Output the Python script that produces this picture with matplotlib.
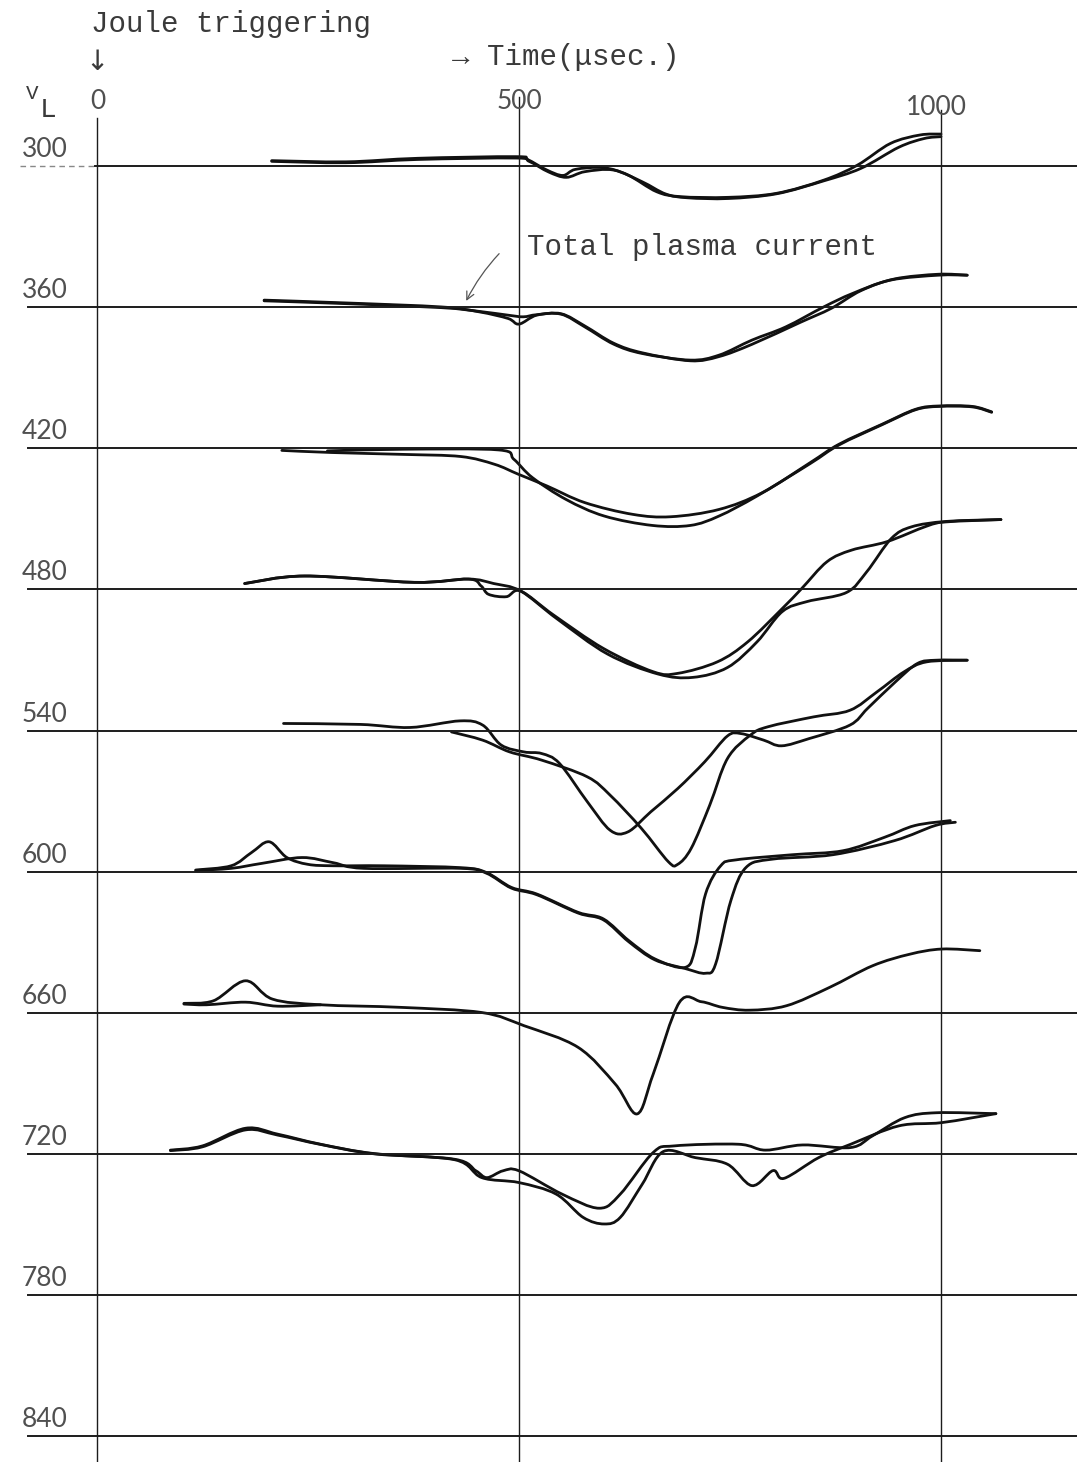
import matplotlib
matplotlib.use("Agg")
import matplotlib.pyplot as plt
from matplotlib.path import Path
from matplotlib.patches import PathPatch

# ---- chart data -------------------------------------------------------------
levels = [300, 360, 420, 480, 540, 600, 660, 720, 780, 840]
level_labels = ["300", "360", "420", "480", "540", "600", "660", "720", "780", "840"]
time_ticks = [0, 500, 1000]
time_tick_labels = ["0", "500", "1000"]

# Oscillograph traces (time in microseconds, V_L scale), two shots per level
t_300a = [207, 295, 380, 496, 510, 533, 552, 567, 600, 629, 663, 691, 748, 805, 861, 901, 940, 975, 1000]
v_300a = [297.7, 298.2, 296.7, 296.0, 297.2, 301.7, 304.0, 301.4, 300.7, 303.8, 310.9, 313.0, 313.3, 311.6, 306.0, 299.6, 290.4, 286.8, 286.4]
t_300b = [207, 295, 380, 496, 512, 535, 556, 578, 612, 646, 674, 700, 748, 805, 861, 905, 950, 980, 1000]
v_300b = [298.0, 298.6, 297.2, 296.6, 298.0, 302.5, 304.8, 302.4, 301.7, 306.7, 311.9, 313.5, 313.8, 311.8, 306.3, 301.0, 292.0, 288.3, 287.5]

t_360a = [198, 295, 408, 453, 487, 500, 521, 550, 578, 612, 646, 703, 737, 776, 816, 861, 895, 940, 997, 1031]
v_360a = [357.0, 358.2, 359.9, 362.0, 364.8, 367.2, 363.4, 363.0, 368.4, 375.7, 379.7, 382.5, 380.4, 374.0, 368.4, 359.9, 354.2, 348.5, 346.4, 346.4]
t_360b = [198, 295, 408, 453, 487, 505, 521, 550, 578, 612, 646, 703, 737, 776, 833, 870, 905, 945, 997, 1031]
v_360b = [357.3, 358.5, 360.2, 361.8, 363.4, 364.1, 363.2, 362.8, 368.0, 375.3, 379.4, 382.8, 381.0, 375.8, 366.5, 360.5, 353.0, 348.0, 346.0, 346.4]

t_420a = [219, 278, 363, 431, 471, 499, 533, 578, 635, 680, 737, 788, 845, 879, 930, 970, 998, 1037, 1060]
v_420a = [420.9, 421.8, 422.6, 423.5, 426.8, 431.0, 436.0, 443.1, 448.1, 449.1, 446.0, 438.9, 426.1, 418.3, 409.8, 403.4, 402.0, 402.2, 404.5]
t_420b = [273, 363, 476, 494, 516, 556, 601, 658, 703, 737, 782, 845, 879, 930, 970, 998, 1037, 1060]
v_420b = [421.1, 420.4, 420.7, 424.7, 432.5, 441.8, 448.8, 452.8, 452.8, 448.8, 440.3, 426.5, 418.6, 410.0, 403.6, 402.2, 402.4, 404.7]

t_480a = [175, 246, 376, 440, 455, 464, 485, 502, 541, 600, 659, 688, 735, 771, 812, 835, 865, 894, 936, 983, 1006, 1071]
v_480a = [477.5, 474.3, 477.0, 475.6, 478.5, 482.1, 483.1, 480.7, 490.9, 505.1, 515.0, 515.7, 510.8, 502.3, 488.1, 479.6, 468.2, 463.3, 459.7, 453.1, 451.3, 450.3]
t_480b = [175, 246, 376, 440, 470, 502, 545, 605, 665, 706, 747, 782, 812, 841, 888, 912, 941, 965, 1006, 1071]
v_480b = [477.5, 474.3, 477.0, 475.6, 477.5, 480.7, 492.5, 507.5, 516.0, 517.4, 513.2, 502.3, 489.4, 485.2, 481.3, 472.5, 458.4, 453.4, 451.1, 450.3]

t_540a = [221, 312, 371, 430, 457, 479, 506, 527, 548, 581, 608, 629, 656, 688, 720, 747, 763, 790, 811, 844, 892, 913, 946, 972, 994, 1031]
v_540a = [537.0, 537.4, 538.7, 535.9, 537.7, 546.2, 549.1, 549.8, 554.0, 570.3, 582.4, 583.1, 574.6, 564.7, 553.3, 542.3, 541.3, 544.1, 546.5, 543.4, 537.7, 530.6, 519.3, 511.5, 510.1, 510.1]
t_540b = [420, 457, 489, 527, 581, 608, 645, 677, 688, 704, 726, 747, 774, 795, 849, 892, 924, 956, 983, 1031]
v_540b = [540.6, 544.1, 549.1, 552.6, 559.7, 567.5, 581.6, 595.8, 596.9, 590.1, 571.7, 551.9, 542.0, 538.4, 534.2, 531.4, 523.6, 515.1, 510.8, 510.1]

t_600a = [117, 159, 183, 204, 225, 250, 280, 340, 431, 461, 491, 521, 570, 600, 630, 661, 697, 709, 721, 739, 757, 824, 884, 933, 969, 1011]
v_600a = [599.3, 597.5, 591.9, 587.3, 594.0, 596.9, 597.5, 597.5, 598.3, 600.3, 606.7, 609.5, 617.3, 620.1, 629.3, 637.1, 640.7, 632.2, 609.5, 597.5, 595.0, 592.8, 591.1, 585.4, 580.4, 578.3]
t_600b = [117, 159, 195, 243, 280, 316, 431, 461, 491, 521, 570, 600, 630, 661, 697, 721, 733, 751, 769, 800, 872, 945, 993, 1017]
v_600b = [599.5, 598.6, 596.5, 594.0, 596.2, 598.6, 598.6, 600.6, 607.0, 609.8, 617.6, 620.5, 629.8, 637.5, 641.2, 643.2, 639.2, 612.3, 598.2, 594.7, 592.8, 586.8, 580.4, 579.0]

t_660a = [103, 138, 176, 208, 265, 360, 456, 506, 570, 614, 640, 659, 690, 716, 741, 773, 817, 868, 919, 963, 1001, 1046]
v_660a = [656.0, 654.9, 646.4, 654.2, 656.6, 657.7, 659.9, 665.5, 674.7, 690.3, 703.0, 686.1, 655.6, 655.3, 657.7, 658.9, 657.0, 649.2, 640.0, 635.1, 632.9, 633.6]
t_660b = [103, 130, 176, 214, 265]
v_660b = [656.3, 656.6, 655.5, 657.2, 656.6]

t_720a = [87, 125, 176, 214, 265, 329, 424, 449, 462, 481, 500, 551, 595, 620, 659, 684, 760, 792, 836, 893, 919, 957, 995, 1065]
v_720a = [718.4, 716.6, 709.1, 711.6, 715.9, 719.9, 722.3, 727.2, 730.1, 727.2, 727.2, 737.1, 743.1, 737.1, 719.4, 716.6, 715.9, 718.4, 716.2, 717.3, 712.3, 704.6, 702.5, 702.9]
t_720b = [87, 125, 176, 214, 265, 329, 424, 456, 500, 544, 576, 601, 620, 646, 671, 709, 747, 776, 801, 814, 855, 893, 950, 1001, 1065]
v_720b = [718.6, 717.0, 709.8, 712.0, 716.0, 720.0, 722.5, 730.1, 732.2, 737.1, 747.0, 749.8, 747.0, 732.9, 719.0, 721.6, 724.4, 733.5, 727.1, 730.4, 721.6, 715.9, 708.1, 706.7, 702.9]

traces = [
    (t_300a, v_300a), (t_300b, v_300b),
    (t_360a, v_360a), (t_360b, v_360b),
    (t_420a, v_420a), (t_420b, v_420b),
    (t_480a, v_480a), (t_480b, v_480b),
    (t_540a, v_540a), (t_540b, v_540b),
    (t_600a, v_600a), (t_600b, v_600b),
    (t_660a, v_660a), (t_660b, v_660b),
    (t_720a, v_720a), (t_720b, v_720b),
]


def trace_path(t, v):
    """Smooth pen-like path through the points (Catmull-Rom as cubic Beziers)."""
    pts = list(zip(t, v))
    n = len(pts)
    verts = [pts[0]]
    codes = [Path.MOVETO]
    for i in range(n - 1):
        p0 = pts[i - 1] if i > 0 else pts[i]
        p1 = pts[i]
        p2 = pts[i + 1]
        p3 = pts[i + 2] if i + 2 < n else pts[i + 1]
        c1 = (p1[0] + (p2[0] - p0[0]) / 6.0, p1[1] + (p2[1] - p0[1]) / 6.0)
        c2 = (p2[0] - (p3[0] - p1[0]) / 6.0, p2[1] - (p3[1] - p1[1]) / 6.0)
        verts += [c1, c2, p2]
        codes += [Path.CURVE4] * 3
    return Path(verts, codes)


# ---- figure -----------------------------------------------------------------
fig = plt.figure(figsize=(10.77, 14.62), dpi=100)
fig.patch.set_facecolor("white")
ax = fig.add_axes([0, 0, 1, 1])
ax.set_xlim(-114.9, 1161.1)
ax.set_ylim(851.0, 229.4)
ax.axis("off")

mono = ["Liberation Mono", "DejaVu Sans Mono"]
label_font = ["Lato", "DejaVu Sans"]
ink = "#1c1c1c"
type_ink = "#3a3a3a"
label_ink = "#505050"

# reference levels
for i, lv in enumerate(levels):
    if i == 0:
        ax.plot([-91, -2], [lv, lv], color="#888888", lw=1.0, ls=(0, (4, 3)))
        ax.plot([-2, 1161], [lv, lv], color=ink, lw=1.4)
    else:
        ax.plot([-82, 1161], [lv, lv], color=ink, lw=1.4)
    ax.text(-61.6, lv - 7.0, level_labels[i], fontsize=19, family=label_font,
            color=label_ink, ha="center", va="center")

# time markers
line_tops = [279.6, 270.7, 276.2]
for tt, top in zip(time_ticks, line_tops):
    ax.plot([tt, tt], [top, 851.0], color=ink, lw=1.0)
label_pos = [(0.5, 272.4), (501, 272.6), (994, 275.3)]
for lab, (x, y) in zip(time_tick_labels, label_pos):
    ax.text(x, y, lab, fontsize=19, family=label_font, color=label_ink,
            ha="center", va="center")

# traces
for t, v in traces:
    ax.add_patch(PathPatch(trace_path(t, v), facecolor="none", edgecolor="#111111",
                           lw=2.0, joinstyle="round", capstyle="round"))

# annotations
ax.text(-7.1, 243.0, "Joule triggering", fontsize=21, family=mono, color=type_ink,
        ha="left", va="baseline")
ax.text(0.5, 255.8, "\u2193", fontsize=20, family=["DejaVu Sans"], color=type_ink,
        ha="center", va="center")
ax.text(421, 257.1, "\u2192 Time(\u03bcsec.)", fontsize=21, family=mono, color=type_ink,
        ha="left", va="baseline")
ax.text(-77, 269.2, "V", fontsize=15, family=mono, color=type_ink, ha="center", va="center")
ax.text(-58, 276.2, "L", fontsize=20, family=mono, color=type_ink, ha="center", va="center")
ax.text(509.5, 337.8, "Total plasma current", fontsize=21, family=mono, color=type_ink,
        ha="left", va="baseline")
ax.annotate("", xy=(436, 358.4), xytext=(478.7, 336.4),
            arrowprops=dict(arrowstyle="->", lw=0.9, color="#555555",
                            connectionstyle="arc3,rad=0.08", mutation_scale=14))

fig.savefig("out.png", dpi=100, facecolor="white")
